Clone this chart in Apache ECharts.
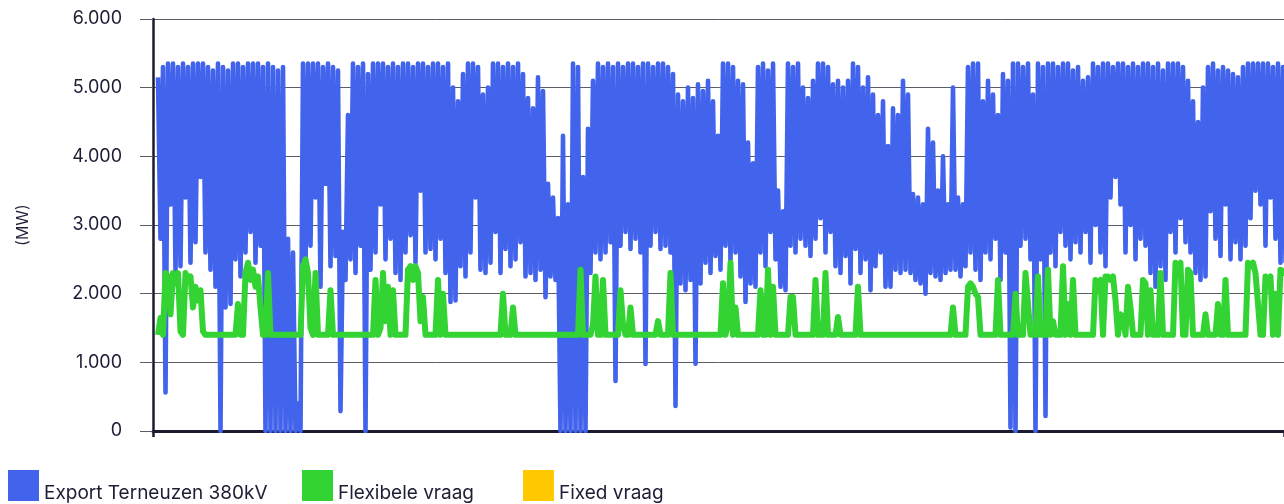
<!DOCTYPE html>
<html>
<head>
<meta charset="utf-8">
<script src="https://cdn.jsdelivr.net/npm/echarts@6/dist/echarts.min.js"></script>
<style>
  html, body { margin: 0; padding: 0; background: #fff; }
  #chart { width: 1284px; height: 504px; }
</style>
</head>
<body>
<div id="chart"></div>
<script>
// series names as shown in the legend
const seriesNames = ["Export Terneuzen 380kV", "Flexibele vraag", "Fixed vraag"];
const seriesColors = ["#4263EB", "#33D333", "#FFC800"];

// y axis ticks (MW)
const yMin = 0;
const yMax = 6000;
const yStep = 1000;

// export Terneuzen 380kV (high / low swings, left to right)
const exportValues = [
  5150, 2800, 5300, 560, 5350, 3300, 5350, 2350, 5300, 2400, 5350, 3400, 5300, 2450, 5350, 2750, 5350, 3700, 5350, 2600,
  5300, 2350, 5250, 2100, 5350, 0, 5300, 1800, 5250, 1850, 5350, 2500, 5350, 2250, 5300, 2600, 5350, 2900, 5350, 2450,
  5350, 2700, 5300, 0, 5350, 0, 5300, 0, 5250, 0, 5300, 0, 2800, 0, 2600, 0, 400, 0, 5350, 2400,
  5350, 2700, 5350, 3400, 5350, 2100, 5300, 3600, 5350, 2400, 5300, 2550, 5250, 290, 2900, 2200, 4600, 2500, 5350, 2300,
  5300, 2700, 5350, 0, 5200, 2350, 5350, 2600, 5350, 3300, 5350, 2500, 5300, 2800, 5350, 2300, 5300, 2200, 5350, 2600,
  5350, 2850, 5300, 2450, 5350, 3500, 5350, 2600, 5300, 2650, 5350, 2500, 5350, 2800, 5300, 2300, 5350, 1880, 5000, 1900,
  4800, 2400, 5200, 2250, 5350, 2600, 5350, 3400, 5300, 2350, 4900, 2300, 5000, 2450, 5350, 2900, 5350, 2300, 5300, 2650,
  5350, 2400, 5300, 2500, 5350, 2750, 5200, 2250, 4850, 2300, 4700, 2200, 5150, 2350, 4950, 1950, 3600, 2250, 3400, 2200,
  3100, 0, 4300, 0, 3300, 0, 5350, 0, 5300, 0, 3700, 0, 4400, 2300, 5100, 2600, 5350, 2500, 5300, 2600,
  5350, 2750, 5300, 730, 5350, 2700, 5300, 2900, 5350, 2650, 5350, 2800, 5300, 2600, 5350, 975, 5350, 2700, 5300, 2900,
  5350, 2650, 5350, 2700, 5300, 2600, 5200, 365, 4900, 2150, 4800, 2050, 5000, 2200, 4850, 980, 5050, 2150, 4950, 2450,
  5100, 2300, 4800, 2550, 4300, 2350, 5350, 2700, 5350, 2450, 5300, 2600, 5100, 2250, 5050, 1880, 4200, 2150, 3900, 2100,
  5300, 2600, 5350, 2400, 5250, 2900, 5350, 2500, 3500, 2100, 3200, 2050, 5350, 2700, 5300, 2600, 5350, 2800, 5000, 2700,
  4850, 2550, 5100, 2800, 5350, 3100, 5350, 2600, 5300, 2900, 5050, 2400, 5100, 2300, 5000, 2550, 5100, 2150, 5350, 2650,
  5300, 2300, 5000, 2500, 5150, 2050, 4900, 2400, 4600, 2600, 4800, 2100, 4150, 2100, 4700, 2350, 4600, 2300, 5100, 2350,
  4900, 2300, 3450, 2200, 3400, 2150, 3300, 2000, 4400, 2300, 4200, 2250, 3500, 2200, 4000, 2300, 3300, 2350, 5000, 2350,
  3400, 2250, 3300, 2400, 5300, 2600, 5350, 2350, 5350, 2200, 4800, 2600, 5100, 2500, 4900, 2800, 4600, 2200, 5200, 2600,
  5100, 50, 5350, 0, 5350, 2700, 5300, 2800, 5350, 2500, 4900, 0, 5350, 2500, 5300, 220, 5350, 2600, 5350, 2400,
  5300, 2900, 5350, 2700, 5350, 2500, 5250, 2750, 5300, 2600, 5100, 2900, 5150, 2450, 5350, 3000, 5300, 2600, 5350, 2400,
  5350, 3400, 5300, 3700, 5350, 3300, 5350, 2600, 5300, 3000, 5350, 2500, 5300, 2800, 5350, 2700, 5350, 2300, 5300, 2100,
  5350, 2400, 5250, 2200, 5350, 2900, 5350, 2600, 5350, 3100, 5300, 2750, 5100, 2600, 4800, 2300, 4500, 2200, 5000, 2250,
  5300, 3200, 5350, 2800, 5250, 2550, 5300, 3300, 5250, 2500, 5200, 2750, 5150, 2500, 5300, 2700, 5350, 3100, 5350, 3500,
  5350, 3300, 5350, 2700, 5350, 3400, 5300, 2800, 5350, 2450, 5300, 2450
];

// flexibele vraag, same time steps as above
const flexValues = [
  1400, 1650, 1400, 2300, 2250, 1700, 2300, 2150, 2300, 1450, 1400, 2300, 2200, 2250, 1800, 2100, 1900, 2050, 1450, 1400,
  1400, 1400, 1400, 1400, 1400, 1400, 1400, 1400, 1400, 1400, 1400, 1400, 1850, 1400, 1400, 2300, 2450, 2200, 2350, 2100,
  2250, 1800, 1400, 1400, 2300, 1400, 1400, 1400, 1400, 1400, 1400, 1400, 1400, 1400, 1400, 1400, 1400, 1400, 2400, 2500,
  2300, 1500, 1400, 2300, 1400, 1400, 1400, 1400, 1400, 2050, 1400, 1400, 1400, 1400, 1400, 1400, 1400, 1400, 1400, 1400,
  1400, 1400, 1400, 1400, 1400, 1400, 1400, 2200, 1400, 1500, 2300, 1600, 2100, 1400, 2050, 1400, 1400, 1400, 1400, 1400,
  2350, 2400, 2200, 2400, 2300, 1600, 1950, 1400, 1400, 1400, 1400, 1400, 2200, 1400, 2000, 1400, 1400, 1400, 1400, 1400,
  1400, 1400, 1400, 1400, 1400, 1400, 1400, 1400, 1400, 1400, 1400, 1400, 1400, 1400, 1400, 1400, 1400, 1400, 2000, 1400,
  1400, 1400, 1800, 1400, 1400, 1400, 1400, 1400, 1400, 1400, 1400, 1400, 1400, 1400, 1400, 1400, 1400, 1400, 1400, 1400,
  1400, 1400, 1400, 1400, 1400, 1400, 1400, 1400, 1400, 2350, 1400, 1400, 1400, 1400, 1550, 2250, 1400, 1400, 2200, 1400,
  1400, 1400, 1400, 1400, 1400, 2050, 1550, 1400, 1400, 1800, 1400, 1400, 1400, 1400, 1400, 1400, 1400, 1400, 1400, 1400,
  1600, 1400, 1400, 1400, 1400, 2300, 1400, 1400, 1400, 1400, 1400, 1400, 1400, 1400, 1400, 1400, 1400, 1400, 1400, 1400,
  1400, 1400, 1400, 1400, 1400, 1400, 2150, 1400, 1550, 2450, 1400, 1800, 1400, 1400, 1400, 1400, 1400, 1400, 1400, 1400,
  1400, 2050, 1400, 1400, 2350, 1400, 2100, 1400, 1400, 1400, 1400, 1400, 1400, 1950, 1950, 1400, 1400, 1400, 1400, 1400,
  1400, 1400, 1400, 2200, 1400, 1400, 1400, 2300, 1400, 1400, 1400, 1400, 1660, 1400, 1400, 1400, 1400, 1400, 1400, 1400,
  2100, 1400, 1400, 1400, 1400, 1400, 1400, 1400, 1400, 1400, 1400, 1400, 1400, 1400, 1400, 1400, 1400, 1400, 1400, 1400,
  1400, 1400, 1400, 1400, 1400, 1400, 1400, 1400, 1400, 1400, 1400, 1400, 1400, 1400, 1400, 1400, 1400, 1400, 1800, 1400,
  1400, 1400, 1400, 1400, 2100, 2150, 2100, 2000, 1950, 1400, 1400, 1400, 1400, 1400, 1400, 1400, 2200, 1400, 1400, 1400,
  1400, 1400, 1400, 2000, 1400, 1400, 1400, 2300, 1850, 1400, 1400, 1400, 2250, 1400, 1400, 1400, 2350, 1400, 1600, 1400,
  1400, 1400, 2400, 1400, 1850, 1400, 2200, 1400, 1400, 1400, 1400, 1400, 1400, 1400, 1400, 2200, 2150, 2200, 1400, 2250,
  2250, 2200, 2250, 1900, 1400, 1700, 1650, 1400, 2100, 1800, 1400, 1400, 1400, 1400, 2200, 2150, 1400, 2050, 1400, 1400,
  1400, 2300, 1400, 1400, 1400, 1400, 1400, 2450, 2400, 2450, 1400, 1400, 2350, 2300, 1400, 1400, 1400, 1400, 1400, 1700,
  1400, 1400, 1400, 1400, 1850, 1400, 1400, 2200, 1400, 1400, 1400, 1400, 1400, 1400, 1400, 1400, 2450, 2400, 2450, 2300,
  1850, 1400, 1400, 2250, 2200, 2250, 1400, 2000, 1400, 2350, 2300, 2350
];

// fixed vraag: no visible line in the picture
const fixedValues = [];

// the lines start a little right of the y axis
const xOffset = 2;
const xEnd = 452.4;

const fontFamily = "Inter, Lato, sans-serif";
const textColor = "#1d1d35";

function toPoints(values) {
  return values.map((v, i) => [i + xOffset, v]);
}

function legendFor(name, left) {
  return {
    data: [name],
    left: left,
    top: 470,
    padding: 0,
    icon: "rect",
    itemWidth: 31,
    itemHeight: 31,
    selectedMode: false,
    // push the text down so it sits on the bottom of the square
    formatter: function (n) {
      return "{t|" + n + "}";
    },
    textStyle: {
      rich: {
        t: {
          fontFamily: fontFamily,
          fontSize: 19,
          color: textColor,
          padding: [15, 0, 0, 0],
        },
      },
    },
  };
}

var chartDom = document.getElementById("chart");
var myChart = echarts.init(chartDom);
var option = {
  animation: false,
  backgroundColor: "#fff",
  grid: {
    left: 153,
    right: 0,
    top: 19,
    bottom: 73,
  },
  legend: [
    legendFor(seriesNames[0], 8),
    legendFor(seriesNames[1], 302),
    legendFor(seriesNames[2], 523),
  ],
  xAxis: {
    type: "value",
    min: 0,
    max: xEnd,
    interval: 1000,
    axisLabel: { show: false },
    splitLine: { show: false },
    axisLine: {
      show: true,
      lineStyle: { color: "#1b1b2f", width: 3 },
    },
    axisTick: {
      show: true,
      length: 6,
      lineStyle: { color: "#1b1b2f", width: 2.5 },
    },
  },
  yAxis: {
    type: "value",
    min: yMin,
    max: yMax,
    interval: yStep,
    name: "(MW)",
    nameLocation: "middle",
    nameGap: 122,
    nameTextStyle: {
      fontFamily: fontFamily,
      fontSize: 16,
      color: textColor,
    },
    axisLine: {
      show: true,
      lineStyle: { color: "#1b1b2f", width: 2.5 },
    },
    axisTick: {
      show: true,
      length: 13,
      lineStyle: { color: "#5c5c68", width: 1 },
    },
    axisLabel: {
      margin: 31,
      fontFamily: fontFamily,
      fontSize: 18,
      color: textColor,
      // 1000 -> "1.000"
      formatter: function (v) {
        return v === 0 ? "0" : (v / 1000).toFixed(3);
      },
    },
    splitLine: {
      show: true,
      lineStyle: { color: "#5c5c68", width: 1 },
    },
  },
  series: [
    {
      name: seriesNames[0],
      type: "line",
      data: toPoints(exportValues),
      color: seriesColors[0],
      showSymbol: false,
      lineStyle: { color: seriesColors[0], width: 4.6, join: "round" },
    },
    {
      name: seriesNames[1],
      type: "line",
      data: toPoints(flexValues),
      color: seriesColors[1],
      showSymbol: false,
      lineStyle: { color: seriesColors[1], width: 6, join: "round" },
    },
    {
      name: seriesNames[2],
      type: "line",
      data: toPoints(fixedValues),
      color: seriesColors[2],
      showSymbol: false,
      lineStyle: { color: seriesColors[2], width: 3 },
    },
  ],
};
option && myChart.setOption(option, true);
</script>
</body>
</html>
